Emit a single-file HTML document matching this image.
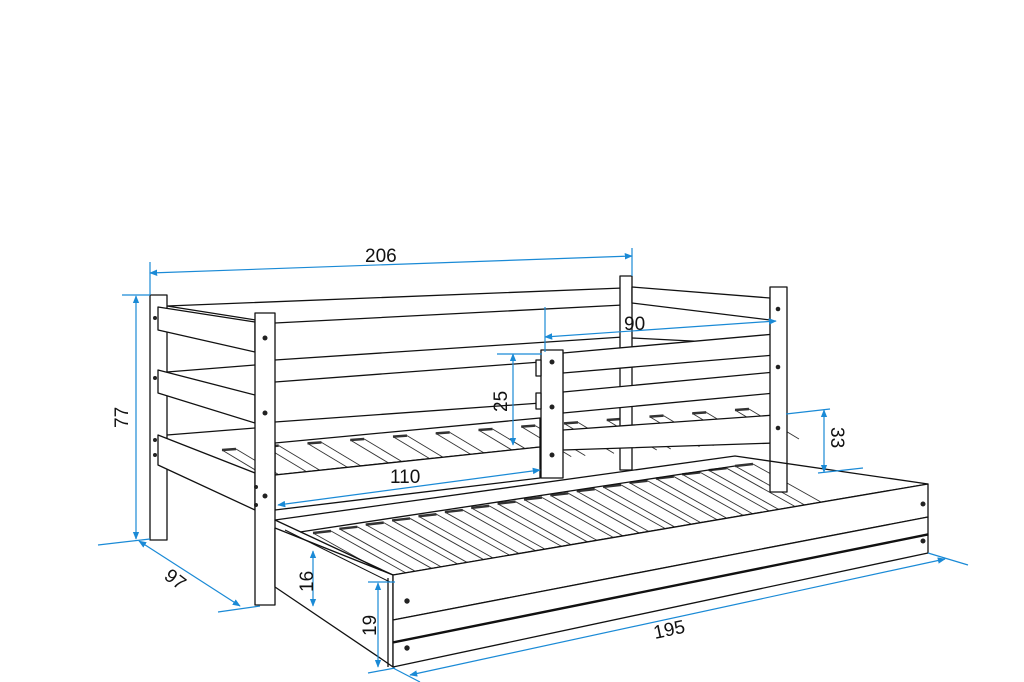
<!DOCTYPE html>
<html><head><meta charset="utf-8">
<style>
html,body{margin:0;padding:0;background:#fff;}
svg{display:block;}
text{font-family:"Liberation Sans",sans-serif;font-size:19px;fill:#111;}
</style></head>
<body>
<svg id="s" width="1024" height="682" viewBox="0 0 1024 682" xmlns="http://www.w3.org/2000/svg">
<defs>
<marker id="a" viewBox="0 0 10 10" refX="9" refY="5" markerWidth="8" markerHeight="8" orient="auto-start-reverse" markerUnits="userSpaceOnUse"><path d="M0,1 L10,5 L0,9 z" fill="#1a8ad6"/></marker>
</defs>
<g id="slats" stroke="#333" stroke-width="0.9" fill="none"></g>
<g stroke="#111" stroke-width="1.3" fill="#fff" stroke-linejoin="round">
<polygon points="167,306 623,288 623,305 275,323" fill="#fff"/>
<line x1="275" y1="360" x2="623" y2="337"/>
<line x1="275" y1="382" x2="541" y2="362"/>
<line x1="275" y1="422" x2="541" y2="403"/>
<line x1="167" y1="372" x2="255" y2="365"/>
<line x1="167" y1="435" x2="255" y2="428"/>
<rect x="620" y="276" width="12" height="194"/>
<polygon points="632,287 770,298 770,320 632,303"/>
<line x1="632" y1="338" x2="770" y2="345"/>
<polygon points="275,443 540,418 540,447 275,475" fill="none"/>
<polygon points="275,475 540,447 540,478 275,510"/>
<rect x="150" y="295" width="17" height="245"/>
<polygon points="158,307 255,322 255,352 158,330"/>
<polygon points="158,370 255,395 255,423 158,393"/>
<polygon points="158,435 255,473 255,510 158,465"/>
<rect x="255" y="313" width="20" height="292"/>
<polygon points="563,353 775,334 775,355 563,373"/>
<polygon points="563,392 775,372 775,393 563,413"/>
<polygon points="563,430 775,415 775,443 563,450"/>
<rect x="541" y="350" width="22" height="128"/>
<rect x="536" y="360" width="5" height="16"/>
<rect x="536" y="393" width="5" height="16"/>
<rect x="770" y="287" width="17" height="205"/>
<polygon points="275,520 735,456 928,484 393,575" fill="none"/>
<line x1="300" y1="532" x2="735" y2="466"/>
<polygon points="275,528 393,575 393,667 383,660 275,587"/>
<line x1="285" y1="530" x2="390" y2="582" stroke-width="1"/>
<polygon points="393,575 928,484 928,517 393,620"/>
<polygon points="393,620 928,517 928,535 393,643"/>
<line x1="393" y1="643" x2="928" y2="535" stroke-width="3.5"/>
<polygon points="393,643 928,535 928,553 393,667"/>
<line x1="388" y1="578" x2="388" y2="667"/>
</g>
<g fill="#222">
<circle cx="265" cy="338" r="2.5"/><circle cx="265" cy="413" r="2.5"/><circle cx="265" cy="496" r="2.5"/>
<circle cx="155" cy="318" r="2"/><circle cx="155" cy="378" r="2"/><circle cx="155" cy="440" r="2"/><circle cx="155" cy="455" r="2"/>
<circle cx="256" cy="487" r="2"/><circle cx="256" cy="505" r="2"/>
<circle cx="552" cy="362" r="2.5"/><circle cx="552" cy="407" r="2.5"/><circle cx="552" cy="455" r="2.5"/>
<circle cx="778" cy="309" r="2.3"/><circle cx="778" cy="367" r="2.3"/><circle cx="778" cy="428" r="2.3"/>
<circle cx="407" cy="601" r="2.7"/><circle cx="407" cy="648" r="2.7"/>
<circle cx="923" cy="504" r="2.5"/><circle cx="923" cy="541" r="2.5"/>
</g>
<g stroke="#1a8ad6" stroke-width="1.2" fill="none">
<line x1="150" y1="273" x2="632" y2="256" marker-start="url(#a)" marker-end="url(#a)"/>
<line x1="150" y1="262" x2="150" y2="295"/><line x1="632" y1="248" x2="632" y2="276"/>
<line x1="136" y1="296" x2="136" y2="539" marker-start="url(#a)" marker-end="url(#a)"/>
<line x1="122" y1="295" x2="150" y2="295"/><line x1="98" y1="545" x2="150" y2="539"/>
<line x1="139" y1="541" x2="240" y2="606" marker-start="url(#a)" marker-end="url(#a)"/>
<line x1="218" y1="612" x2="260" y2="606"/>
<line x1="545" y1="337" x2="776" y2="321" marker-start="url(#a)" marker-end="url(#a)"/>
<line x1="545" y1="307" x2="545" y2="352"/>
<line x1="513" y1="354" x2="513" y2="445" marker-start="url(#a)" marker-end="url(#a)"/>
<line x1="497" y1="354" x2="542" y2="354"/>
<line x1="278" y1="505" x2="540" y2="470" marker-start="url(#a)" marker-end="url(#a)"/>
<line x1="824" y1="410" x2="824" y2="472" marker-start="url(#a)" marker-end="url(#a)"/>
<line x1="786" y1="414" x2="830" y2="409"/><line x1="818" y1="473" x2="863" y2="468"/>
<line x1="313" y1="551" x2="313" y2="606" marker-start="url(#a)" marker-end="url(#a)"/>
<line x1="378" y1="583" x2="378" y2="667" marker-start="url(#a)" marker-end="url(#a)"/>
<line x1="368" y1="582" x2="395" y2="582"/><line x1="368" y1="673" x2="395" y2="668"/>
<line x1="410" y1="675" x2="945" y2="559" marker-start="url(#a)" marker-end="url(#a)"/>
<line x1="928" y1="553" x2="968" y2="565"/><line x1="393" y1="668" x2="420" y2="682"/>
</g>
<text x="365" y="262">206</text>
<text transform="translate(128,428) rotate(-90)">77</text>
<text transform="translate(163,578) rotate(37)">97</text>
<text x="624" y="330">90</text>
<text transform="translate(507,412) rotate(-90)">25</text>
<text x="390" y="483">110</text>
<text transform="translate(831,427) rotate(90)">33</text>
<text transform="translate(313,592) rotate(-90)">16</text>
<text transform="translate(376,636) rotate(-90)">19</text>
<text transform="translate(655,639) rotate(-12)">195</text>
</svg>
<script>
var g=document.getElementById('slats'),ns='http://www.w3.org/2000/svg';
function L(x1,y1,x2,y2,w){var l=document.createElementNS(ns,'line');l.setAttribute('x1',x1);l.setAttribute('y1',y1);l.setAttribute('x2',x2);l.setAttribute('y2',y2);if(w)l.setAttribute('stroke-width',w);g.appendChild(l);}
for(var i=0;i<13;i++){var t=i/12;var bx=222+t*(735-222),by=450-t*(450-410);
 var dx=50,dy=30;L(bx,by,bx+dx,by+dy);L(bx+14,by-1,bx+14+dx,by-1+dy);
 L(bx,by,bx+14,by-1,2.5);}
for(var i=0;i<17;i++){var t=i/16;var bx=313+t*(735-313),by=533-t*(533-466);
 var dx=75,dy=42;L(bx,by,bx+dx,by+dy);L(bx+18,by-2,bx+18+dx,by-2+dy);
 L(bx,by,bx+18,by-2,2.5);}
</script>
</body></html>
